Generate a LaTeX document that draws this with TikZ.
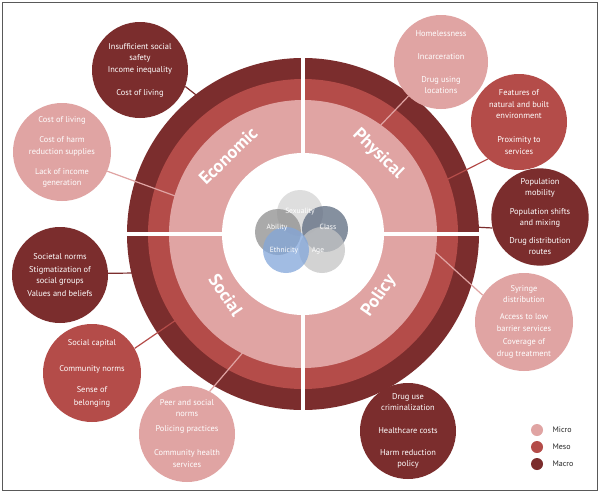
\documentclass[tikz,border=0pt]{standalone}
\usepackage{fontspec}
\setmainfont{PT Sans}
\definecolor{micro}{HTML}{E0A4A3}
\definecolor{meso}{HTML}{B44C49}
\definecolor{macro}{HTML}{7B2D2D}
\definecolor{sexcol}{HTML}{D4D4D4}
\definecolor{classcol}{HTML}{5D6B80}
\definecolor{abilitycol}{HTML}{8E8E8E}
\definecolor{ethniccol}{HTML}{82A6DA}
\definecolor{agecol}{HTML}{C5C5C5}
\tikzset{
  bubble/.style={circle, inner sep=0pt, minimum size=96pt, text=white, align=center,
    font=\fontsize{8.4}{11}\selectfont},
  link/.style={line width=1.2pt},
  quad/.style={text=white, font=\bfseries\fontsize{18}{18}\selectfont},
  venn/.style={circle, inner sep=0pt, minimum size=46pt, fill opacity=0.75},
  venntext/.style={text=white, font=\fontsize{7.5}{8}\selectfont},
  legdot/.style={circle, inner sep=0pt, minimum size=12pt},
  legtext/.style={anchor=west, font=\fontsize{8}{9}\selectfont, text=black!85}
}
\begin{document}
\begin{tikzpicture}[x=1pt, y=-1pt]
\useasboundingbox (0,0) rectangle (600,493);
\fill[white] (0,0) rectangle (600,493);
\draw[black!65, line width=1.2pt] (2.5,2.5) rectangle (597.5,490.5);

% rings
\coordinate (c) at (303,234);
\fill[macro] (c) circle (176pt);
\fill[meso] (c) circle (155pt);
\fill[micro] (c) circle (134pt);
\fill[white] (c) circle (81pt);
\draw[white, line width=4.5pt] (125,234) -- (481,234);
\draw[white, line width=4.5pt] (303,56) -- (303,412);

\node[quad, rotate=44] (economic) at (228,156) {Economic};
\node[quad, rotate=-44] (physical) at (378,154) {Physical};
\node[quad, rotate=-56] (social) at (226,295) {Social};
\node[quad, rotate=55] (policy) at (379,296) {Policy};

% centre
\node[venn, fill=sexcol] (sexuality) at (300,213) {};
\node[venn, fill=abilitycol] (ability) at (278,232) {};
\node[venn, fill=classcol] (class) at (325,229) {};
\node[venn, fill=agecol] (age) at (322,250) {};
\node[venn, fill=ethniccol] (ethnicity) at (286,250) {};
\node[venntext] at (300,212) {Sexuality};
\node[venntext] at (277,228) {Ability};
\node[venntext] at (328,227) {Class};
\node[venntext] at (284,251) {Ethnicity};
\node[venntext] at (318,251) {Age};

% economic
\node[bubble, fill=macro] (ecoMacro) at (140,70)
  {Insufficient social\\safety\\[1pt]Income inequality\\[12pt]Cost of living};
\node[bubble, fill=micro, minimum size=98pt] (ecoMicro) at (62,152)
  {Cost of living\\[9pt]Cost of harm\\[1pt]reduction supplies\\[9pt]Lack of income\\generation};
\coordinate (ecoMacroEnd) at (205,102);
\coordinate (ecoMicroEnd) at (178,197);
\draw[link, macro] (ecoMacro.-20) -- (ecoMacroEnd);
\draw[link, micro] (ecoMicro.-23) -- (ecoMicroEnd);

% physical
\node[bubble, fill=micro, minimum size=94pt] (physMicro) at (441,62)
  {Homelessness\\[12pt]Incarceration\\[12pt]Drug using\\locations};
\node[bubble, fill=meso] (physMeso) at (519,122)
  {Features of\\[1pt]natural and built\\environment\\[13pt]Proximity to\\[1pt]services};
\node[bubble, fill=macro, minimum size=94pt] (physMacro) at (540,217)
  {Population\\mobility\\[8pt]Population shifts\\and mixing\\[7pt]Drug distribution\\routes};
\coordinate (physMicroEnd) at (378,128);
\coordinate (physMesoEnd) at (442,182);
\coordinate (physMacroEnd) at (474,227);
\draw[link, micro] (physMicro) -- (physMicroEnd);
\draw[link, meso] (physMeso.-130) -- (physMesoEnd);
\draw[link, macro] (physMacro.-167) -- (physMacroEnd);

% policy
\node[bubble, fill=micro, minimum size=98pt] (polMicro) at (524,322)
  {Syringe\\distribution\\[6pt]Access to low\\[1pt]barrier services\\[2pt]Coverage of\\[1pt]drug treatment};
\node[bubble, fill=macro] (polMacro) at (408,431)
  {Drug use\\criminalization\\[12pt]Healthcare costs\\[11pt]Harm reduction\\policy};
\coordinate (polMicroEnd) at (433,250);
\coordinate (polMacroEnd) at (376,380);
\draw[link, micro] (polMicro.147) -- (polMicroEnd);
\draw[link, macro] (polMacro.123) -- (polMacroEnd);

% social
\node[bubble, fill=macro] (socMacro) at (60,275)
  {Societal norms\\[2pt]Stigmatization of\\social groups\\[2pt]Values and beliefs};
\node[bubble, fill=meso, minimum size=98pt] (socMeso) at (92,373)
  {Social capital\\[15pt]Community norms\\[10pt]Sense of\\[2pt]belonging};
\node[bubble, fill=micro] (socMicro) at (187,434)
  {Peer and social\\norms\\[4pt]Policing practices\\[13pt]Community health\\[1pt]services};
\coordinate (socMacroEnd) at (135,273);
\coordinate (socMesoEnd) at (176,320);
\coordinate (socMicroEnd) at (245,350);
\draw[link, macro] (socMacro.2) -- (socMacroEnd);
\draw[link, meso] (socMeso.30) -- (socMesoEnd);
\draw[link, micro] (socMicro.62) -- (socMicroEnd);

% legend
\node[legdot, fill=micro] (legMicro) at (537,430) {};
\node[legdot, fill=meso] (legMeso) at (537,447) {};
\node[legdot, fill=macro] (legMacro) at (537,464) {};
\node[legtext] at (549,430) {Micro};
\node[legtext] at (549,447) {Meso};
\node[legtext] at (549,464) {Macro};
\end{tikzpicture}
\end{document}
